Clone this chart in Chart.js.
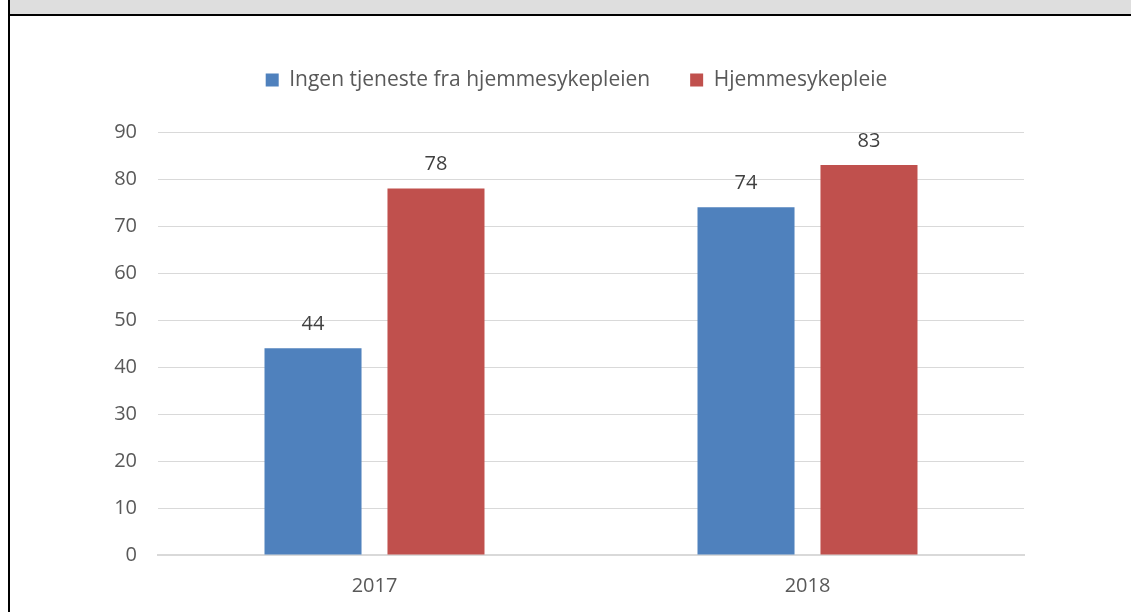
<!DOCTYPE html>
<html lang="no">
<head>
    <meta charset="UTF-8">
    <title>Hjemmesykepleie 2017-2018</title>
    <script src="https://cdn.jsdelivr.net/npm/chart.js"></script>
    <style>
        body { margin: 0; background: #fff; }
        #header { position: absolute; left: 10px; top: 0; width: 1121px; height: 14px; background: #dedede; border-bottom: 2px solid #000; }
        #leftline { position: absolute; left: 8px; top: 0; width: 2px; height: 612px; background: #000; }
        #wrap { position: absolute; left: 10px; top: 16px; width: 1121px; height: 596px; }
    </style>
</head>
<body>
    <div id="header"></div>
    <div id="leftline"></div>
    <div id="wrap"><canvas id="chart"></canvas></div>

    <script>
        // data
        const years = ['2017', '2018'];
        const ingenTjeneste = [44, 74];
        const hjemmesykepleie = [78, 83];
        const seriesNames = ['Ingen tjeneste fra hjemmesykepleien', 'Hjemmesykepleie'];

        const FONT = '"Open Sans", Lato, sans-serif';

        // labels above each bar
        const valueLabels = {
            id: 'valueLabels',
            afterDatasetsDraw(chart) {
                const ctx = chart.ctx;
                ctx.save();
                ctx.font = '20px ' + FONT;
                ctx.fillStyle = '#404040';
                ctx.textAlign = 'center';
                ctx.textBaseline = 'middle';
                chart.data.datasets.forEach((ds, i) => {
                    chart.getDatasetMeta(i).data.forEach((bar, j) => {
                        ctx.fillText(ds.data[j], bar.x, bar.y - 24);
                    });
                });
                ctx.restore();
            }
        };

        new Chart(document.getElementById('chart'), {
            type: 'bar',
            data: {
                labels: years,
                datasets: [
                    { label: seriesNames[0], data: ingenTjeneste, backgroundColor: '#4f81bd' },
                    { label: seriesNames[1], data: hjemmesykepleie, backgroundColor: '#c0504d' }
                ]
            },
            options: {
                responsive: true,
                maintainAspectRatio: false,
                animation: false,
                categoryPercentage: 0.568,
                barPercentage: 0.789,
                layout: { padding: { left: 95, right: 83, top: 13.5, bottom: 0 } },
                plugins: {
                    tooltip: { enabled: false },
                    legend: {
                        position: 'top',
                        labels: {
                            boxWidth: 13,
                            boxHeight: 13,
                            padding: 40,
                            color: '#595959',
                            font: { family: FONT, size: 21 }
                        }
                    },
                    // empty spacer between legend and plot
                    subtitle: {
                        display: true,
                        text: '',
                        weight: 500,
                        padding: 0,
                        font: { size: 31.5, lineHeight: 1 }
                    }
                },
                scales: {
                    x: {
                        grid: { display: false },
                        border: { display: true, color: '#d9d9d9', width: 2 },
                        ticks: { color: '#595959', padding: 11, font: { family: FONT, size: 20 } },
                        afterFit(scale) { scale.height = 57; }
                    },
                    y: {
                        min: 0,
                        max: 90,
                        ticks: { stepSize: 10, color: '#595959', padding: 21, font: { family: FONT, size: 20 } },
                        grid: { color: '#d9d9d9', lineWidth: 1, drawTicks: false },
                        border: { display: false },
                        afterFit(scale) { scale.width = 53; }
                    },
                    // empty right gutter so the legend sits where it does in the picture
                    y2: {
                        position: 'right',
                        grid: { display: false },
                        ticks: { display: false },
                        border: { display: false },
                        afterFit(scale) { scale.width = 24; }
                    }
                }
            },
            plugins: [valueLabels]
        });
    </script>
</body>
</html>
